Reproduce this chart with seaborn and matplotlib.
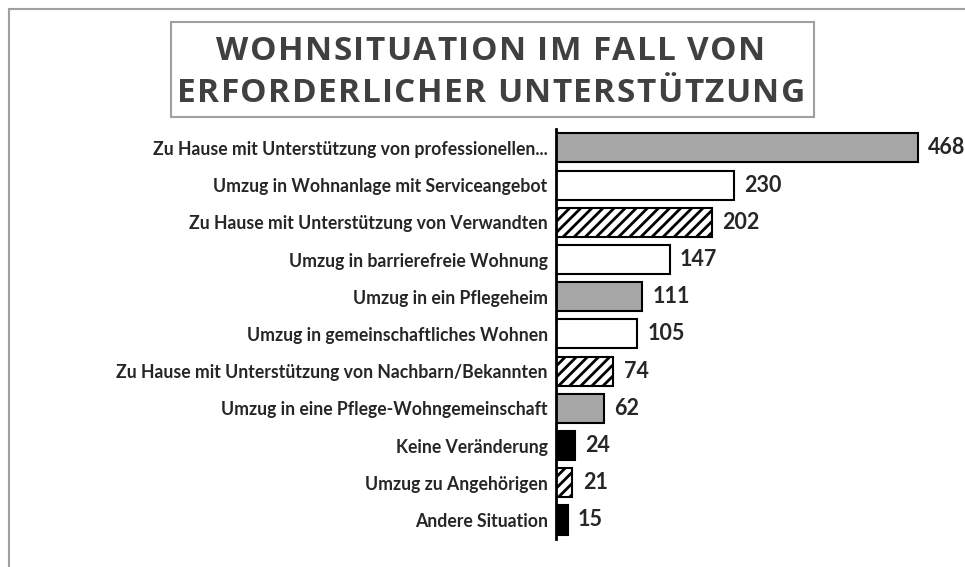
import matplotlib
matplotlib.use("Agg")
import matplotlib.pyplot as plt
import seaborn as sns
import pandas as pd
from matplotlib.patches import Rectangle
from matplotlib.font_manager import FontProperties, findfont, get_font

# Daten
kategorien = [
    "Zu Hause mit Unterstützung von professionellen...",
    "Umzug in Wohnanlage mit Serviceangebot",
    "Zu Hause mit Unterstützung von Verwandten",
    "Umzug in barrierefreie Wohnung",
    "Umzug in ein Pflegeheim",
    "Umzug in gemeinschaftliches Wohnen",
    "Zu Hause mit Unterstützung von Nachbarn/Bekannten",
    "Umzug in eine Pflege-Wohngemeinschaft",
    "Keine Veränderung",
    "Umzug zu Angehörigen",
    "Andere Situation",
]
anzahl = [468, 230, 202, 147, 111, 105, 74, 62, 24, 21, 15]
gruppe = ["prof", "umzug", "familie", "umzug", "pflege", "umzug",
          "familie", "pflege", "keine", "familie", "keine"]
titel = ["WOHNSITUATION IM FALL VON", "ERFORDERLICHER UNTERSTÜTZUNG"]

# Stil je Gruppe (Füllung, Schraffur)
STIL = {
    "prof":    ("#a6a6a6", ""),
    "pflege":  ("#a6a6a6", ""),
    "umzug":   ("white", ""),
    "familie": ("white", "///"),
    "keine":   ("black", ""),
}

DPI = 100
W, H = 965, 567

sns.set_style("white")
plt.rcParams["font.family"] = ["Lato", "DejaVu Sans"]
plt.rcParams["hatch.linewidth"] = 2.0

df = pd.DataFrame({"kategorie": kategorien, "anzahl": anzahl})

fig = plt.figure(figsize=(W / DPI, H / DPI), dpi=DPI)
ax = fig.add_axes([0.5762, 0.0501, 0.4238, 0.7217])

sns.barplot(data=df, y="kategorie", x="anzahl", orient="h", ax=ax,
            width=0.78, color="white", edgecolor="black", linewidth=1.5)

for patch, g in zip(ax.patches, gruppe):
    fc, hatch = STIL[g]
    patch.set_facecolor(fc)
    patch.set_hatch(hatch)
    patch.set_edgecolor("black")

for i, v in enumerate(anzahl):
    ax.annotate(str(v), xy=(v, i), xytext=(7.5, 0), textcoords="offset points",
                va="center", ha="left", fontsize=15.5, fontweight="bold",
                annotation_clip=False)

ax.set_xlim(0, 529)
ax.set_ylim(10.5, -0.5)
ax.set_xlabel("")
ax.set_ylabel("")
ax.set_xticks([])
ax.tick_params(axis="y", length=0, pad=6)
for lbl in ax.get_yticklabels():
    lbl.set_fontsize(12.7)
    lbl.set_fontweight("bold")
for s in ["top", "right", "bottom"]:
    ax.spines[s].set_visible(False)
ax.spines["left"].set_linewidth(2)
ax.spines["left"].set_color("black")

# Rahmen um das Diagramm
fig.patches.append(Rectangle((9 / W, -0.05), 1.2, 1 - 9 / H + 0.05,
                             transform=fig.transFigure, fill=False,
                             edgecolor="#a0a0a0", linewidth=1.5))

# Titel mit Rahmen
fig.patches.append(Rectangle((171 / W, 1 - 117 / H), 643 / W, 95 / H,
                             transform=fig.transFigure, fill=False,
                             edgecolor="#a0a0a0", linewidth=1.5))

# gesperrte Schrift: Zeichen einzeln setzen
TITEL_FP = FontProperties(family="Open Sans", weight="bold", size=24)
ft = get_font(findfont(TITEL_FP))
ft.set_size(24, DPI)


def vorschub(c):
    return ft.load_char(ord(c)).linearHoriAdvance / 65536


def gesperrt(text, xc, baseline, sperrung=1.4):
    adv = [vorschub(c) for c in text]
    breite = sum(adv) + sperrung * (len(text) - 1)
    x = xc - breite / 2
    for c, a in zip(text, adv):
        if c != " ":
            fig.text((x + a / 2) / W, 1 - baseline / H, c, ha="center",
                     va="baseline", fontproperties=TITEL_FP, color="#404040")
        x += a + sperrung


gesperrt(titel[0], 491, 60)
gesperrt(titel[1], 491, 102)

fig.savefig("out.png", dpi=DPI)
